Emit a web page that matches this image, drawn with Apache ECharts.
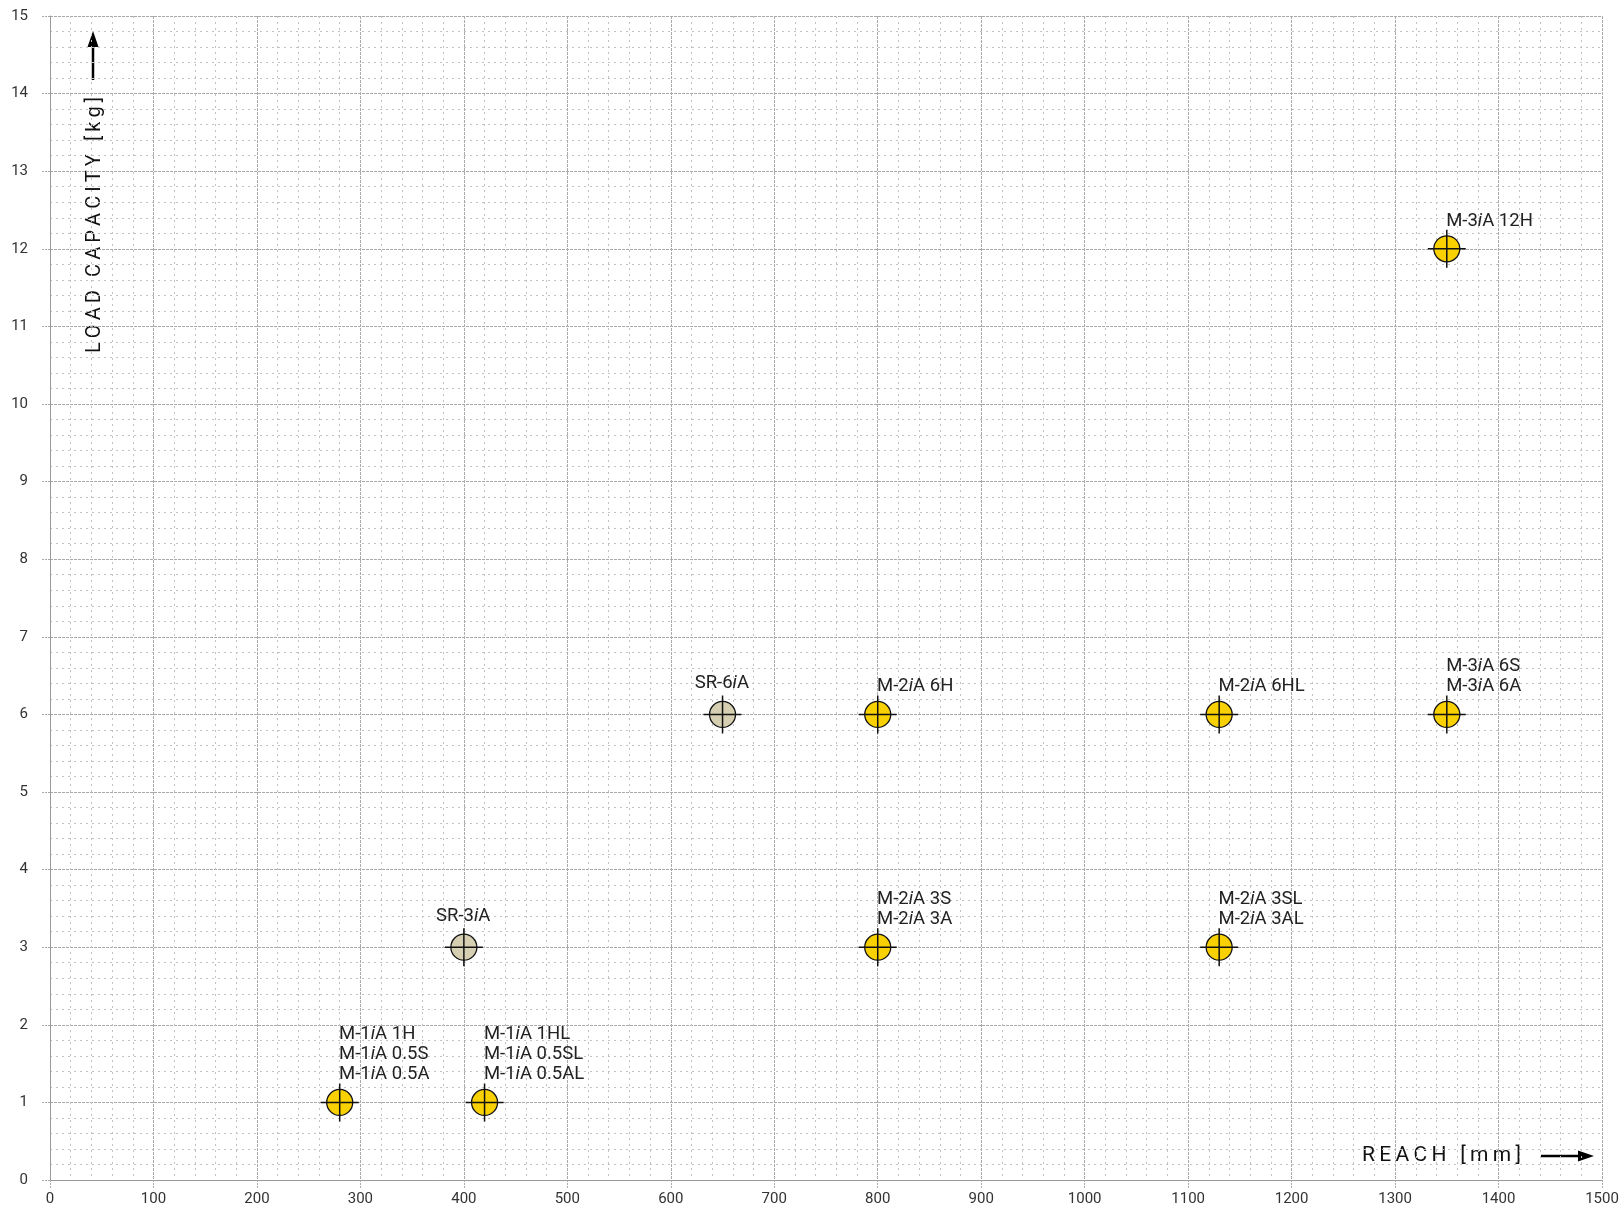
<!DOCTYPE html>
<html><head><meta charset="utf-8">
<script src="https://cdn.jsdelivr.net/npm/echarts@6/dist/echarts.min.js"></script>
<style>html,body{margin:0;padding:0;background:#fff}#c{width:1622px;height:1209px}</style>
</head><body><div id="c"></div>
<script>
// ---- data ----
const reach = [280, 420, 400, 650, 800, 800, 1130, 1130, 1350, 1350];
const load  = [1, 1, 3, 6, 6, 3, 6, 3, 6, 12];
const models = [
  ['M-1iA 1H', 'M-1iA 0.5S', 'M-1iA 0.5A'],
  ['M-1iA 1HL', 'M-1iA 0.5SL', 'M-1iA 0.5AL'],
  ['SR-3iA'],
  ['SR-6iA'],
  ['M-2iA 6H'],
  ['M-2iA 3S', 'M-2iA 3A'],
  ['M-2iA 6HL'],
  ['M-2iA 3SL', 'M-2iA 3AL'],
  ['M-3iA 6S', 'M-3iA 6A'],
  ['M-3iA 12H']
];
const family = ['M', 'M', 'SR', 'SR', 'M', 'M', 'M', 'M', 'M', 'M'];
const xTitle = 'REACH [mm]';
const yTitle = 'LOAD CAPACITY [kg]';

const FONT = 'Roboto';
const YELLOW = '#F9D100';
const BEIGE = '#D6CFB2';

function fmt(s) {
  const p = s.split('iA');
  return '{n|' + p[0] + '}{i|i}{n|A' + p[1] + '}';
}
function spaced(s) {
  return s.split(' ').map(w => w.split('').join('\u2009')).join('\u2009 \u2009');
}

const mData = [], srData = [], crossData = [];
reach.forEach((x, k) => {
  const item = { value: [x, load[k]], lines: models[k] };
  (family[k] === 'SR' ? srData : mData).push(item);
  crossData.push([x, load[k]]);
});

const rich = {
  n: { fontFamily: FONT, fontSize: 18.5, color: '#222', lineHeight: 20 },
  i: { fontFamily: FONT, fontSize: 18.5, color: '#222', lineHeight: 20, fontStyle: 'italic' }
};
const labelFmt = p => p.data.lines.map(fmt).join('\n');

const chart = echarts.init(document.getElementById('c'), null, { renderer: 'canvas' });
chart.setOption({
  animation: false,
  backgroundColor: '#fff',
  grid: { left: 50, right: 20, top: 16, bottom: 29 },
  xAxis: {
    type: 'value', min: 0, max: 1500, interval: 100,
    axisLine: { show: true, onZero: false, lineStyle: { color: '#999', width: 1 } },
    axisTick: { show: true, length: 8, lineStyle: { color: '#aaa', type: [2, 1] } },
    axisLabel: { margin: 12, fontFamily: FONT, fontSize: 15, color: '#333', formatter: v => String(v) },
    splitLine: { show: true, lineStyle: { color: '#aaa', type: [3, 1], width: 1 } },
    minorTick: { show: false, splitNumber: 5 },
    minorSplitLine: { show: true, lineStyle: { color: '#c2c2c2', type: [2, 4], width: 1 } }
  },
  yAxis: {
    type: 'value', min: 0, max: 15, interval: 1,
    axisLine: { show: true, onZero: false, lineStyle: { color: '#999', width: 1 } },
    axisTick: { show: true, length: 8, lineStyle: { color: '#aaa', type: [2, 1] } },
    axisLabel: { margin: 22, fontFamily: FONT, fontSize: 15, color: '#333', formatter: v => String(v) },
    splitLine: { show: true, lineStyle: { color: '#aaa', type: [3, 1], width: 1 } },
    minorTick: { show: false, splitNumber: 5 },
    minorSplitLine: { show: true, lineStyle: { color: '#c2c2c2', type: [2, 4], width: 1 } }
  },
  series: [
    {
      type: 'scatter', data: mData, symbol: 'circle', symbolSize: 26, z: 3,
      itemStyle: { color: YELLOW, borderColor: '#111', borderWidth: 1.3, opacity: 1 },
      label: { show: true, position: [13, -4], align: 'left', verticalAlign: 'bottom', formatter: labelFmt, rich: rich },
      emphasis: { disabled: true }
    },
    {
      type: 'scatter', data: srData, symbol: 'circle', symbolSize: 26, z: 3,
      itemStyle: { color: BEIGE, borderColor: '#111', borderWidth: 1.3, opacity: 1 },
      label: { show: true, position: [13, -7], align: 'center', verticalAlign: 'bottom', formatter: labelFmt, rich: rich },
      emphasis: { disabled: true }
    },
    {
      type: 'scatter', data: crossData, z: 4,
      symbol: 'path://M19,0L19,38M0,19L38,19', symbolSize: 38,
      itemStyle: { color: 'none', borderColor: '#111', borderWidth: 1.5, opacity: 1 },
      emphasis: { disabled: true }, silent: true
    }
  ],
  graphic: [
    { type: 'text', x: 1362, y: 1156, style: { text: spaced(xTitle), font: '21px Roboto', fill: '#111', align: 'left', verticalAlign: 'middle' } },
    { type: 'line', shape: { x1: 1541, y1: 1156, x2: 1582, y2: 1156 }, style: { stroke: '#000', lineWidth: 2.5 } },
    { type: 'polygon', shape: { points: [[1594, 1156], [1578, 1150.5], [1578, 1161.5]] }, style: { fill: '#000' } },
    { type: 'text', x: 95, y: 353, rotation: Math.PI / 2, style: { text: spaced(yTitle), font: '20px Roboto', fill: '#111', align: 'left', verticalAlign: 'middle' } },
    { type: 'line', shape: { x1: 93, y1: 80, x2: 93, y2: 44 }, style: { stroke: '#000', lineWidth: 2.5 } },
    { type: 'polygon', shape: { points: [[93, 31], [87.5, 47], [98.5, 47]] }, style: { fill: '#000' } }
  ]
});
</script></body></html>
